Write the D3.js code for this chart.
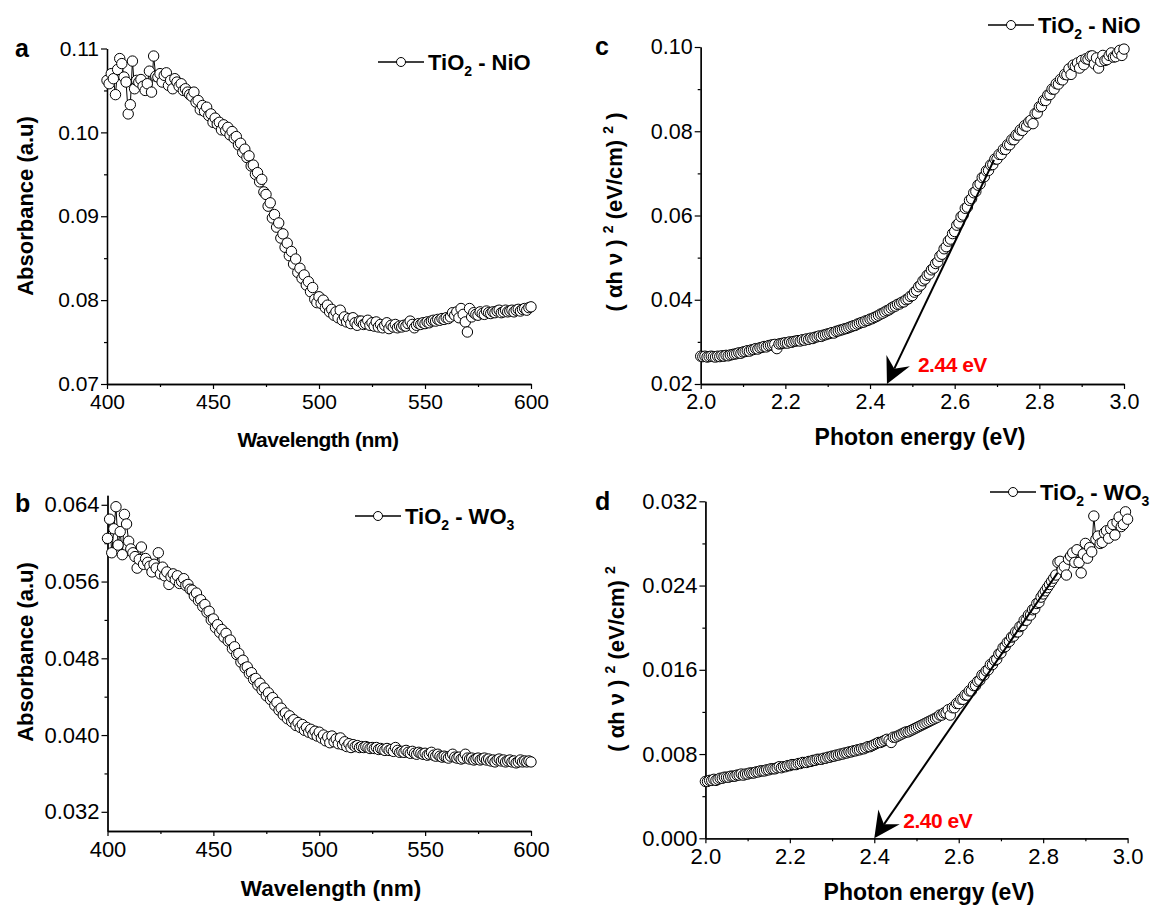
<!DOCTYPE html>
<html>
<head>
<meta charset="utf-8">
<script src="https://cdn.jsdelivr.net/npm/d3@7"></script>
<style>
body { margin: 0; background: #fff; }
text { font-family: "Liberation Sans", Arial, sans-serif; }
</style>
</head>
<body>
<script>
// ---- data ----
var wavelengthA = d3.range(400, 601);
var absorbA = [
  0.1062, 0.1058, 0.1070, 0.1064, 0.1045, 0.1075, 0.1088, 0.1082, 0.1066, 0.1060,
  0.1022, 0.1033, 0.1085, 0.1052, 0.1062, 0.1060, 0.1063, 0.1055, 0.1050, 0.1058,
  0.1073, 0.1048, 0.1091, 0.1067, 0.1066, 0.1070, 0.1060, 0.1068, 0.1071, 0.1056,
  0.1062, 0.1052, 0.1064, 0.1060, 0.1055, 0.1058, 0.1050, 0.1052, 0.1048, 0.1045,
  0.1043, 0.1048, 0.1036, 0.1038, 0.1027, 0.1032, 0.1025, 0.1030, 0.1020, 0.1022,
  0.1012, 0.1017, 0.1010, 0.1012, 0.1003, 0.1009, 0.1002, 0.1006, 0.0997, 0.1001,
  0.0993, 0.0995, 0.0985, 0.0987, 0.0976, 0.0980, 0.0970, 0.0972, 0.0960, 0.0961,
  0.0950, 0.0952, 0.0941, 0.0944, 0.0929, 0.0926, 0.0912, 0.0916, 0.0898, 0.0902,
  0.0887, 0.0892, 0.0874, 0.0879, 0.0863, 0.0868, 0.0853, 0.0858, 0.0843, 0.0849,
  0.0833, 0.0838, 0.0826, 0.0830, 0.0818, 0.0822, 0.0810, 0.0815, 0.0801, 0.0797,
  0.0804, 0.0796, 0.0800, 0.0791, 0.0794, 0.0786, 0.0789, 0.0782, 0.0786, 0.0779,
  0.0788, 0.0776, 0.0780, 0.0774, 0.0778, 0.0772, 0.0779, 0.0773, 0.0770, 0.0775,
  0.0775, 0.0771, 0.0772, 0.0776, 0.0770, 0.0773, 0.0769, 0.0774, 0.0768, 0.0771,
  0.0767, 0.0770, 0.0773, 0.0766, 0.0770, 0.0768, 0.0771, 0.0767, 0.0769, 0.0768,
  0.0770, 0.0769, 0.0772, 0.0775, 0.0771, 0.0767, 0.0770, 0.0772, 0.0771, 0.0773,
  0.0772, 0.0774, 0.0773, 0.0775, 0.0776, 0.0775, 0.0777, 0.0776, 0.0778, 0.0777,
  0.0779, 0.0778, 0.0780, 0.0785, 0.0782, 0.0786, 0.0779, 0.0790, 0.0783, 0.0774,
  0.0762, 0.0790, 0.0780, 0.0785, 0.0783, 0.0782, 0.0786, 0.0784, 0.0783, 0.0787,
  0.0785, 0.0784, 0.0786, 0.0785, 0.0787, 0.0788, 0.0785, 0.0786, 0.0788, 0.0786,
  0.0787, 0.0788, 0.0786, 0.0788, 0.0789, 0.0787, 0.0789, 0.0790, 0.0788, 0.0791,
  0.0792
];

var wavelengthB = d3.range(400, 601);
var absorbB = [
  0.0605, 0.0625, 0.0590, 0.0615, 0.0638, 0.0598, 0.0612, 0.0588, 0.0630, 0.0620,
  0.0602, 0.0594, 0.0590, 0.0586, 0.0574, 0.0583, 0.0596, 0.0578, 0.0584, 0.0580,
  0.0576, 0.0570, 0.0578, 0.0574, 0.0590, 0.0568, 0.0575, 0.0566, 0.0570, 0.0557,
  0.0565, 0.0568, 0.0562, 0.0566, 0.0558, 0.0560, 0.0563, 0.0556, 0.0557, 0.0552,
  0.0551, 0.0545, 0.0548, 0.0540, 0.0541, 0.0534, 0.0536, 0.0528, 0.0529, 0.0520,
  0.0521, 0.0512, 0.0515, 0.0507, 0.0510, 0.0502, 0.0506, 0.0498, 0.0499, 0.0490,
  0.0492, 0.0484, 0.0485, 0.0476, 0.0478, 0.0470, 0.0471, 0.0464, 0.0465, 0.0458,
  0.0459, 0.0452, 0.0454, 0.0447, 0.0449, 0.0441, 0.0444, 0.0437, 0.0439, 0.0431,
  0.0434, 0.0426, 0.0428, 0.0421, 0.0423, 0.0417, 0.0420, 0.0414, 0.0416, 0.0410,
  0.0413, 0.0408, 0.0411, 0.0405, 0.0408, 0.0403, 0.0406, 0.0401, 0.0404, 0.0399,
  0.0403, 0.0397, 0.0400, 0.0394, 0.0398, 0.0392, 0.0399, 0.0393, 0.0396, 0.0391,
  0.0397, 0.0390, 0.0393, 0.0388, 0.0391, 0.0387, 0.0390, 0.0388, 0.0389, 0.0387,
  0.0388, 0.0387, 0.0388, 0.0387, 0.0386, 0.0387, 0.0386, 0.0387, 0.0385, 0.0386,
  0.0385, 0.0384, 0.0386, 0.0384, 0.0385, 0.0383, 0.0387, 0.0384, 0.0382, 0.0383,
  0.0382, 0.0384, 0.0382, 0.0381, 0.0383, 0.0381, 0.0380, 0.0382, 0.0381, 0.0380,
  0.0381, 0.0379, 0.0380, 0.0382, 0.0379, 0.0378, 0.0380, 0.0378, 0.0377, 0.0378,
  0.0377, 0.0376, 0.0378, 0.0380, 0.0377, 0.0376, 0.0377, 0.0375, 0.0376, 0.0380,
  0.0376, 0.0375, 0.0376, 0.0374, 0.0375, 0.0376, 0.0374, 0.0375, 0.0376, 0.0374,
  0.0375, 0.0373, 0.0374, 0.0372, 0.0374, 0.0375, 0.0373, 0.0374, 0.0372, 0.0373,
  0.0374, 0.0372, 0.0373, 0.0371, 0.0372, 0.0374, 0.0372, 0.0373, 0.0372, 0.0373,
  0.0372
];

var energyC = d3.range(400, 601).map(function(d) { return d / 200; });
var taucC = [
  0.0266, 0.0265, 0.0266, 0.0264, 0.0265, 0.0266, 0.0265, 0.0264, 0.0266, 0.0265,
  0.0267, 0.0266, 0.0268, 0.0267, 0.0269, 0.0270, 0.0271, 0.0272, 0.0274, 0.0273,
  0.0276, 0.0277, 0.0279, 0.0278, 0.0281, 0.0282, 0.0284, 0.0283, 0.0286, 0.0287,
  0.0289, 0.0288, 0.0291, 0.0292, 0.0293, 0.0294, 0.0284, 0.0295, 0.0296, 0.0297,
  0.0298, 0.0297, 0.0300, 0.0299, 0.0301, 0.0302, 0.0303, 0.0302, 0.0305, 0.0304,
  0.0307, 0.0306, 0.0309, 0.0308, 0.0311, 0.0312, 0.0314, 0.0313, 0.0316, 0.0317,
  0.0319, 0.0320, 0.0322, 0.0321, 0.0325, 0.0326, 0.0328, 0.0329, 0.0331, 0.0332,
  0.0334, 0.0336, 0.0338, 0.0339, 0.0342, 0.0344, 0.0346, 0.0347, 0.0350, 0.0351,
  0.0354, 0.0355, 0.0358, 0.0360, 0.0363, 0.0366, 0.0368, 0.0371, 0.0374, 0.0376,
  0.0380, 0.0383, 0.0385, 0.0389, 0.0390, 0.0394, 0.0395, 0.0400, 0.0402, 0.0408,
  0.0410, 0.0418, 0.0422, 0.0431, 0.0435, 0.0445, 0.0449, 0.0458, 0.0461, 0.0471,
  0.0475, 0.0486, 0.0490, 0.0503, 0.0508, 0.0521, 0.0526, 0.0539, 0.0544, 0.0557,
  0.0562, 0.0577, 0.0582, 0.0597, 0.0601, 0.0617, 0.0620, 0.0636, 0.0640, 0.0654,
  0.0657, 0.0672, 0.0675, 0.0690, 0.0692, 0.0706, 0.0707, 0.0720, 0.0721, 0.0734,
  0.0734, 0.0745, 0.0745, 0.0757, 0.0757, 0.0768, 0.0768, 0.0780, 0.0780, 0.0791,
  0.0791, 0.0803, 0.0802, 0.0813, 0.0812, 0.0822, 0.0826, 0.0818, 0.0842, 0.0843,
  0.0858, 0.0859, 0.0873, 0.0873, 0.0886, 0.0887, 0.0900, 0.0900, 0.0913, 0.0912,
  0.0923, 0.0922, 0.0935, 0.0934, 0.0948, 0.0935, 0.0957, 0.0954, 0.0962, 0.0950,
  0.0968, 0.0958, 0.0972, 0.0971, 0.0978, 0.0979, 0.0960, 0.0974, 0.0950, 0.0966,
  0.0980, 0.0968, 0.0970, 0.0980, 0.0986, 0.0976, 0.0977, 0.0986, 0.0992, 0.0980,
  0.0995
];

var energyD = d3.range(400, 601).map(function(d) { return d / 200; });
var taucD = [
  0.0054, 0.0054, 0.0055, 0.0055, 0.0056, 0.0055, 0.0056, 0.0057, 0.0057, 0.0058,
  0.0058, 0.0058, 0.0059, 0.0059, 0.0059, 0.0060, 0.0060, 0.0061, 0.0060, 0.0061,
  0.0061, 0.0062, 0.0062, 0.0062, 0.0063, 0.0063, 0.0064, 0.0064, 0.0064, 0.0065,
  0.0065, 0.0066, 0.0066, 0.0066, 0.0067, 0.0068, 0.0067, 0.0068, 0.0068, 0.0069,
  0.0069, 0.0070, 0.0070, 0.0070, 0.0071, 0.0071, 0.0072, 0.0072, 0.0072, 0.0073,
  0.0073, 0.0074, 0.0074, 0.0075, 0.0075, 0.0075, 0.0076, 0.0076, 0.0077, 0.0077,
  0.0078, 0.0078, 0.0079, 0.0079, 0.0080, 0.0080, 0.0081, 0.0081, 0.0082, 0.0082,
  0.0083, 0.0083, 0.0084, 0.0084, 0.0085, 0.0085, 0.0086, 0.0087, 0.0087, 0.0088,
  0.0089, 0.0090, 0.0091, 0.0091, 0.0092, 0.0093, 0.0094, 0.0093, 0.0091, 0.0096,
  0.0096, 0.0097, 0.0098, 0.0099, 0.0100, 0.0101, 0.0101, 0.0102, 0.0103, 0.0104,
  0.0105, 0.0106, 0.0107, 0.0108, 0.0109, 0.0110, 0.0111, 0.0112, 0.0113, 0.0114,
  0.0115, 0.0117, 0.0117, 0.0119, 0.0119, 0.0122, 0.0117, 0.0124, 0.0124, 0.0128,
  0.0128, 0.0132, 0.0132, 0.0136, 0.0136, 0.0140, 0.0140, 0.0145, 0.0145, 0.0149,
  0.0150, 0.0155, 0.0155, 0.0159, 0.0160, 0.0165, 0.0165, 0.0169, 0.0170, 0.0175,
  0.0176, 0.0181, 0.0182, 0.0186, 0.0187, 0.0191, 0.0192, 0.0196, 0.0196, 0.0201,
  0.0202, 0.0207, 0.0207, 0.0212, 0.0212, 0.0217, 0.0218, 0.0223, 0.0224, 0.0229,
  0.0232, 0.0235, 0.0238, 0.0241, 0.0244, 0.0247, 0.0250, 0.0262, 0.0263, 0.0255,
  0.0258, 0.0250, 0.0265, 0.0268, 0.0271, 0.0262, 0.0274, 0.0262, 0.0252, 0.0270,
  0.0280, 0.0266, 0.0276, 0.0272, 0.0306, 0.0284, 0.0287, 0.0280, 0.0281, 0.0290,
  0.0292, 0.0285, 0.0294, 0.0298, 0.0288, 0.0300, 0.0305, 0.0296, 0.0298, 0.0310,
  0.0303
];

// tick values
var wlTicks = [400, 450, 500, 550, 600];
var wlMinor = [425, 475, 525, 575];
var evTicks = [2.0, 2.2, 2.4, 2.6, 2.8, 3.0];
var evMinor = [2.1, 2.3, 2.5, 2.7, 2.9];
var yTicksA = [0.07, 0.08, 0.09, 0.10, 0.11];
var yMinorA = [0.075, 0.085, 0.095, 0.105];
var yTicksB = [0.032, 0.040, 0.048, 0.056, 0.064];
var yMinorB = [0.036, 0.044, 0.052, 0.060];
var yTicksC = [0.02, 0.04, 0.06, 0.08, 0.10];
var yMinorC = [0.03, 0.05, 0.07, 0.09];
var yTicksD = [0.000, 0.008, 0.016, 0.024, 0.032];
var yMinorD = [0.004, 0.012, 0.020, 0.028];

// band-gap extrapolation arrows [start, tip] in data units
var arrowC = [[2.693, 0.0732], [2.44, 0.02]];
var arrowD = [[2.834, 0.0252], [2.40, 0.0]];
var gapC = "2.44 eV";
var gapD = "2.40 eV";

var w = 1156, h = 906;

var svg = d3.select("body").append("svg")
  .attr("width", w)
  .attr("height", h);

function panel(p) {
  var x = d3.scaleLinear().domain(p.xDomain).range([p.left, p.right]);
  var y = d3.scaleLinear().domain(p.yDomain).range([p.bottom, p.top]);
  var g = svg.append("g");

  // minor ticks
  g.append("g")
    .attr("transform", "translate(0," + p.bottom + ")")
    .call(d3.axisBottom(x).tickValues(p.xMinor).tickSize(3).tickSizeOuter(0).tickFormat(""));
  g.append("g")
    .attr("transform", "translate(" + p.left + ",0)")
    .call(d3.axisLeft(y).tickValues(p.yMinor).tickSize(3).tickSizeOuter(0).tickFormat(""));

  // major axes
  var xa = g.append("g")
    .attr("transform", "translate(0," + p.bottom + ")")
    .call(d3.axisBottom(x).tickValues(p.xTicks).tickSize(5).tickPadding(5)
      .tickSizeOuter(0).tickFormat(d3.format(p.xFmt)));
  var ya = g.append("g")
    .attr("transform", "translate(" + p.left + ",0)")
    .call(d3.axisLeft(y).tickValues(p.yTicks).tickSize(6).tickPadding(2)
      .tickSizeOuter(0).tickFormat(d3.format(p.yFmt)));

  g.selectAll(".domain").attr("stroke", "#000").attr("stroke-width", 1.3);
  g.selectAll(".tick line").attr("stroke", "#000").attr("stroke-width", 1.2);
  [xa, ya].forEach(function(a) {
    a.attr("font-family", null).attr("font-size", null);
    a.selectAll("text")
      .attr("fill", "#000")
      .style("font-size", p.tickFont + "px");
  });

  // series: thin connecting line, then open circles
  var pts = p.xs.map(function(d, i) { return [d, p.ys[i]]; });
  g.append("path")
    .datum(pts)
    .attr("fill", "none")
    .attr("stroke", "#000")
    .attr("stroke-width", 1)
    .attr("d", d3.line().x(function(d) { return x(d[0]); }).y(function(d) { return y(d[1]); }));
  g.selectAll("circle.pt")
    .data(pts)
    .enter().append("circle")
    .attr("class", "pt")
    .attr("cx", function(d) { return x(d[0]); })
    .attr("cy", function(d) { return y(d[1]); })
    .attr("r", 5.2)
    .attr("fill", "#fff")
    .attr("stroke", "#000")
    .attr("stroke-width", 1);

  // panel letter
  svg.append("text")
    .attr("x", p.letter[0]).attr("y", p.letter[1])
    .style("font-size", "25px").style("font-weight", "bold")
    .text(p.name);

  // x title
  svg.append("text")
    .attr("x", p.xTitle[0]).attr("y", p.xTitle[1])
    .attr("text-anchor", "middle")
    .style("font-size", p.xTitle[2] + "px").style("font-weight", "bold")
    .style("letter-spacing", p.xTitle[3] + "px")
    .text(p.xLabel);

  // y title (rotated, with superscripts)
  var yt = svg.append("text")
    .attr("transform", "translate(" + p.yTitle[0] + "," + p.yTitle[1] + ") rotate(-90)")
    .attr("text-anchor", "middle")
    .style("font-size", p.yTitle[2] + "px").style("font-weight", "bold");
  p.yLabel.forEach(function(part) {
    var t = yt.append("tspan").text(part[0]);
    if (part[1] === "sup") {
      t.attr("dy", -9).style("font-size", "14px");
    } else if (part[1] === "back") {
      t.attr("dy", 9);
    }
  });

  // legend
  var lg = p.legend;
  svg.append("line")
    .attr("x1", lg.x).attr("x2", lg.x + 46)
    .attr("y1", lg.y).attr("y2", lg.y)
    .attr("stroke", "#000").attr("stroke-width", 1.3);
  svg.append("circle")
    .attr("cx", lg.x + 23).attr("cy", lg.y).attr("r", 4.5)
    .attr("fill", "#fff").attr("stroke", "#000").attr("stroke-width", 1);
  var lt = svg.append("text")
    .attr("x", lg.x + 50).attr("y", lg.y + 8)
    .style("font-size", "22px").style("font-weight", "bold");
  lt.append("tspan").text("TiO");
  lt.append("tspan").attr("dy", 6).style("font-size", "14px").text("2");
  lt.append("tspan").attr("dy", -6).text(" - " + lg.oxide);
  if (lg.sub) {
    lt.append("tspan").attr("dy", 6).style("font-size", "14px").text(lg.sub);
  }

  // extrapolation arrow
  if (p.arrow) {
    var s = [x(p.arrow[0][0]), y(p.arrow[0][1])];
    var t = [x(p.arrow[1][0]), y(p.arrow[1][1])];
    var dx = t[0] - s[0], dy = t[1] - s[1];
    var len = Math.sqrt(dx * dx + dy * dy);
    var ux = dx / len, uy = dy / len;
    var nx = -uy, ny = ux;
    var L = 26, W = 13, notch = 17;
    var back = [t[0] - notch * ux, t[1] - notch * uy];
    g.append("line")
      .attr("x1", s[0]).attr("y1", s[1])
      .attr("x2", back[0]).attr("y2", back[1])
      .attr("stroke", "#000").attr("stroke-width", 2);
    g.append("path")
      .attr("d", "M" + t[0] + "," + t[1] +
        "L" + (t[0] - L * ux + W * nx) + "," + (t[1] - L * uy + W * ny) +
        "L" + back[0] + "," + back[1] +
        "L" + (t[0] - L * ux - W * nx) + "," + (t[1] - L * uy - W * ny) + "Z")
      .attr("fill", "#000");
    svg.append("text")
      .attr("x", t[0] + p.gapOffset[0]).attr("y", t[1] + p.gapOffset[1])
      .attr("fill", "#ff0000")
      .style("font-size", "21px").style("font-weight", "bold")
      .style("letter-spacing", "-0.5px")
      .text(p.gapLabel);
  }
}

panel({
  name: "a", letter: [15, 57],
  xs: wavelengthA, ys: absorbA,
  xDomain: [400, 600], yDomain: [0.07, 0.11],
  left: 107, right: 531, top: 48.5, bottom: 384,
  xTicks: wlTicks, xMinor: wlMinor, yTicks: yTicksA, yMinor: yMinorA,
  xFmt: "d", yFmt: ".2f", tickFont: 21,
  xLabel: "Wavelength (nm)", xTitle: [318, 447, 21, -0.5],
  yLabel: [["Absorbance (a.u)"]], yTitle: [33, 206, 22],
  legend: { x: 378, y: 62, oxide: "NiO" }
});

panel({
  name: "b", letter: [15, 512],
  xs: wavelengthB, ys: absorbB,
  xDomain: [400, 600], yDomain: [0.030, 0.065],
  left: 107.5, right: 531, top: 495.2, bottom: 831,
  xTicks: wlTicks, xMinor: wlMinor, yTicks: yTicksB, yMinor: yMinorB,
  xFmt: "d", yFmt: ".3f", tickFont: 22,
  xLabel: "Wavelength (nm)", xTitle: [331, 896, 22.5, 0],
  yLabel: [["Absorbance (a.u)"]], yTitle: [33, 652, 22],
  legend: { x: 355, y: 516, oxide: "WO", sub: "3" }
});

panel({
  name: "c", letter: [595, 55],
  xs: energyC, ys: taucC,
  xDomain: [2.0, 3.0], yDomain: [0.02, 0.10],
  left: 700.7, right: 1124, top: 47, bottom: 384,
  xTicks: evTicks, xMinor: evMinor, yTicks: yTicksC, yMinor: yMinorC,
  xFmt: ".1f", yFmt: ".2f", tickFont: 21.5,
  xLabel: "Photon energy (eV)", xTitle: [920, 445, 23, 0],
  yLabel: [["( \u03b1h \u03bd ) "], ["2", "sup"], [" (eV/cm) ", "back"], ["2", "sup"], [" )", "back"]],
  yTitle: [622, 212, 22],
  legend: { x: 988, y: 25, oxide: "NiO" },
  arrow: arrowC, gapLabel: gapC, gapOffset: [31, -12]
});

panel({
  name: "d", letter: [595, 510],
  xs: energyD, ys: taucD,
  xDomain: [2.0, 3.0], yDomain: [0.0, 0.032],
  left: 705.4, right: 1127.6, top: 501.3, bottom: 838.3,
  xTicks: evTicks, xMinor: evMinor, yTicks: yTicksD, yMinor: yMinorD,
  xFmt: ".1f", yFmt: ".3f", tickFont: 22,
  xLabel: "Photon energy (eV)", xTitle: [929, 900, 23, 0],
  yLabel: [["( \u03b1h \u03bd ) "], ["2", "sup"], [" (eV/cm) ", "back"], ["2", "sup"]],
  yTitle: [624, 659, 22],
  legend: { x: 990, y: 492, oxide: "WO", sub: "3" },
  arrow: arrowD, gapLabel: gapD, gapOffset: [29, -10]
});
</script>
</body>
</html>
